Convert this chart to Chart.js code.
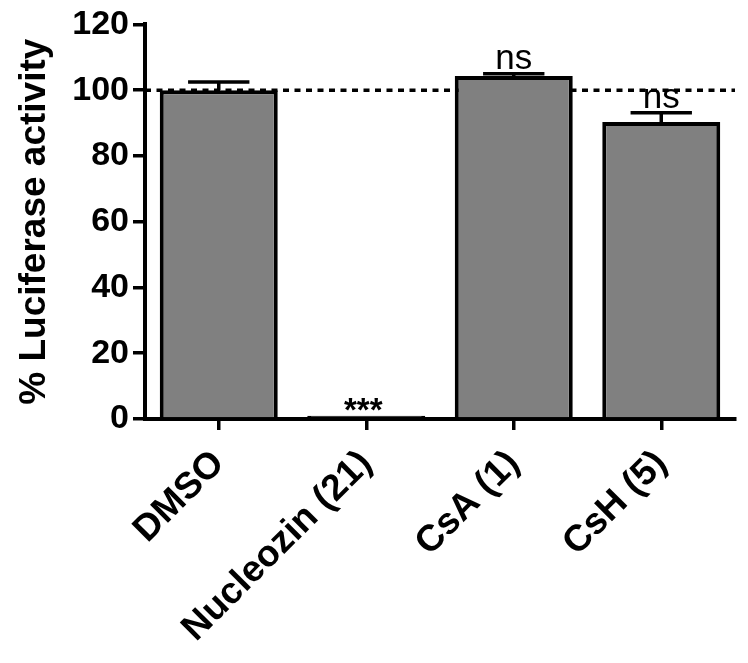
<!DOCTYPE html>
<html>
<head>
<meta charset="utf-8">
<script src="https://cdn.jsdelivr.net/npm/chart.js@4"></script>
<style>
    body { margin: 0; background: #fff; }
    #wrap { width: 748px; height: 663px; }
</style>
</head>
<body>
<div id="wrap"><canvas id="lucChart"></canvas></div>
<script>
// data
var categories = ['DMSO', 'Nucleozin (21)', 'CsA (1)', 'CsH (5)'];
var activity = [100, 1, 104.3, 90.3];
var errorUp = [2.5, 0, 0.7, 2.8];
var significance = ['', '***', 'ns', 'ns'];
var referenceLine = 100;
var yTicks = [0, 20, 40, 60, 80, 100, 120];

var fontFamily = '"Liberation Sans", Arial, sans-serif';

// dotted line at 100%, drawn under the bars
var refLinePlugin = {
    id: 'refLine',
    beforeDatasetsDraw: function (chart) {
        var ctx = chart.ctx;
        var y = chart.scales.y.getPixelForValue(referenceLine);
        ctx.save();
        ctx.strokeStyle = '#000';
        ctx.lineWidth = 3.5;
        ctx.setLineDash([6, 5.5]);
        ctx.beginPath();
        ctx.moveTo(chart.chartArea.left, y);
        ctx.lineTo(chart.chartArea.right, y);
        ctx.stroke();
        ctx.restore();
    }
};

// upper error bars + significance marks
var errorPlugin = {
    id: 'errorBars',
    afterDatasetsDraw: function (chart) {
        var ctx = chart.ctx;
        var yScale = chart.scales.y;
        var bars = chart.getDatasetMeta(0).data;
        ctx.save();
        ctx.strokeStyle = '#000';
        ctx.lineWidth = 3.5;
        bars.forEach(function (bar, i) {
            var top = yScale.getPixelForValue(activity[i]);
            var yErr = yScale.getPixelForValue(activity[i] + errorUp[i]);
            var half = bar.width * 0.26;
            if (errorUp[i] > 0) {
                ctx.beginPath();
                ctx.moveTo(bar.x, top);
                ctx.lineTo(bar.x, yErr);
                ctx.moveTo(bar.x - half, yErr);
                ctx.lineTo(bar.x + half, yErr);
                ctx.stroke();
            }
            var mark = significance[i];
            if (!mark) return;
            ctx.fillStyle = '#000';
            ctx.textAlign = 'center';
            ctx.textBaseline = 'alphabetic';
            if (mark.indexOf('*') >= 0) {
                ctx.font = 'bold 33px ' + fontFamily;
                ctx.fillText(mark, bar.x - 3, yErr + 5);
            } else {
                ctx.font = '35px ' + fontFamily;
                ctx.fillText(mark, bar.x, yErr - 5);
            }
        });
        ctx.restore();
    }
};

var ctx = document.getElementById('lucChart').getContext('2d');
var lucChart = new Chart(ctx, {
    type: 'bar',
    data: {
        labels: categories,
        datasets: [{
            data: activity,
            // the ~1% bar is all border, so it reads as a black line
            backgroundColor: ['#808080', '#000', '#808080', '#808080'],
            borderColor: '#000',
            borderWidth: 4,
            borderSkipped: 'bottom',
            barPercentage: 0.8,
            categoryPercentage: 1.0
        }]
    },
    options: {
        responsive: true,
        maintainAspectRatio: false,
        animation: false,
        layout: {
            padding: { top: 23, right: 13, left: 0, bottom: 0 }
        },
        plugins: {
            legend: { display: false },
            tooltip: { enabled: false }
        },
        scales: {
            x: {
                afterFit: function (scale) { scale.height = 244; },
                grid: {
                    offset: false,
                    drawOnChartArea: false,
                    color: '#000',
                    lineWidth: 3.5,
                    tickLength: 11
                },
                border: { display: true, color: '#000', width: 4 },
                ticks: {
                    color: '#000',
                    minRotation: 45,
                    maxRotation: 45,
                    padding: 12,
                    font: { family: fontFamily, size: 37, weight: 'bold' }
                }
            },
            y: {
                min: 0,
                max: 120,
                afterFit: function (scale) { scale.width = 145; },
                afterBuildTicks: function (scale) {
                    scale.ticks = yTicks.map(function (v) { return { value: v }; });
                },
                grid: {
                    drawOnChartArea: false,
                    color: '#000',
                    lineWidth: 3.5,
                    tickLength: 12
                },
                border: { display: true, color: '#000', width: 4 },
                ticks: {
                    color: '#000',
                    padding: 4,
                    font: { family: fontFamily, size: 34, weight: 'bold' }
                },
                title: {
                    display: true,
                    text: '% Luciferase activity',
                    color: '#000',
                    padding: { top: 16, bottom: 0 },
                    font: { family: fontFamily, size: 37, weight: 'bold', lineHeight: 1 }
                }
            }
        }
    },
    plugins: [refLinePlugin, errorPlugin]
});
</script>
</body>
</html>
